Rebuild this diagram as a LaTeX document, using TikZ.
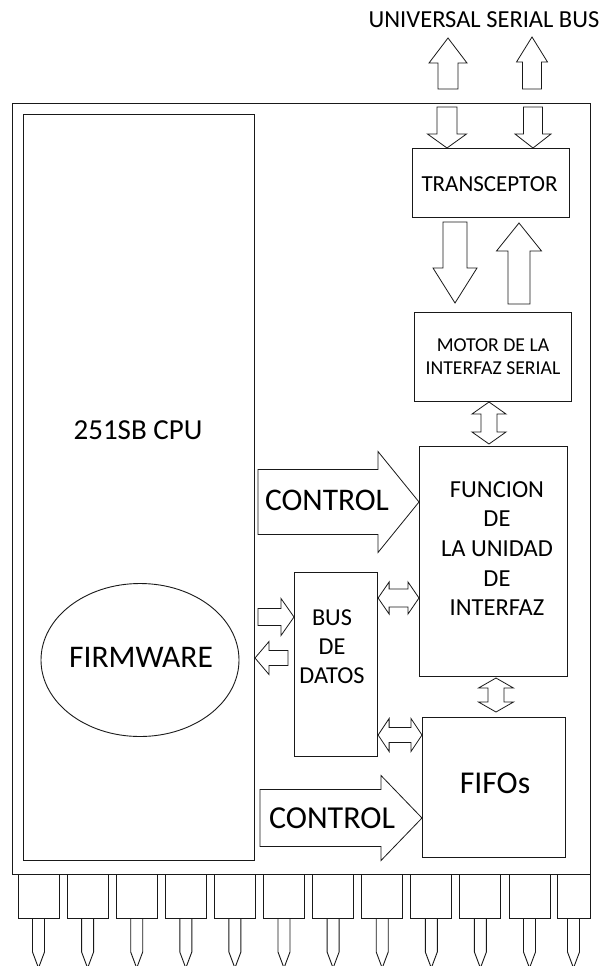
\documentclass[tikz,border=0pt]{standalone}
\usepackage{fontspec}
\setmainfont{Carlito}
\usetikzlibrary{calc,shapes.geometric}
\newcommand{\fsz}[2]{\fontsize{#1}{#2}\selectfont}
\newcommand{\blockarrow}[5]{%
  \coordinate (bah) at ($(#2)!#5!(#1)$);
  \draw[barrow] ($(#1)!#3!90:(#2)$) -- ($(bah)!#3!90:(#2)$) -- ($(bah)!#4!90:(#2)$) -- (#2)
    -- ($(bah)!#4!-90:(#2)$) -- ($(bah)!#3!-90:(#2)$) -- ($(#1)!#3!-90:(#2)$) -- cycle;}
\newcommand{\dblarrow}[5]{%
  \coordinate (baa) at ($(#1)!#5!(#2)$);
  \coordinate (bab) at ($(#2)!#5!(#1)$);
  \draw[barrow] (#1) -- ($(baa)!#4!90:(#2)$) -- ($(baa)!#3!90:(#2)$) -- ($(bab)!#3!90:(#2)$)
    -- ($(bab)!#4!90:(#2)$) -- (#2) -- ($(bab)!#4!-90:(#2)$) -- ($(bab)!#3!-90:(#2)$)
    -- ($(baa)!#3!-90:(#2)$) -- ($(baa)!#4!-90:(#2)$) -- cycle;}
\tikzset{
  box/.style={draw=black!90, line width=1.1pt, inner sep=0pt, anchor=north west},
  barrow/.style={draw=black!90, line width=0.8pt, fill=white, line join=miter},
  lbl/.style={inner sep=0pt, text=black, align=center},
  pinbox/.style={draw=black!90, line width=1pt, inner sep=0pt, minimum height=44pt},
  pinleg/.style={draw=black!90, line width=0.9pt},
}
\begin{document}
\begin{tikzpicture}[x=1pt,y=-1pt]
\useasboundingbox[fill=white] (0,0) rectangle (602,966);
% main blocks
\node[box, minimum width=578pt, minimum height=771pt] (chip) at (12,103) {};
\node[box, minimum width=231pt, minimum height=746pt] (cpu) at (23,114) {};
\node[box, minimum width=157pt, minimum height=69pt] (trans) at (412,148) {};
\node[box, minimum width=157pt, minimum height=89pt] (motor) at (414,312) {};
\node[box, minimum width=148pt, minimum height=230pt] (func) at (419,446) {};
\node[box, minimum width=83pt, minimum height=184pt] (bus) at (294,572) {};
\node[box, minimum width=143pt, minimum height=140pt] (fifo) at (422,717) {};
\node[draw=black!90, line width=0.9pt, ellipse, inner sep=0pt,
      minimum width=198pt, minimum height=153pt] (firm) at (140,660) {};
% labels
\node[lbl, font=\fsz{24.5}{29}] (usb) at (484,20) {UNIVERSAL SERIAL BUS};
\node[lbl, font=\fsz{23}{27}] (transl) at (489.5,184) {TRANSCEPTOR};
\node[lbl, font=\fsz{19.7}{23}] (motorl) at (493,356.5) {MOTOR DE LA\\INTERFAZ SERIAL};
\node[lbl, font=\fsz{24.5}{29.7}] (funcl) at (497,548.5) {FUNCION\\DE\\LA UNIDAD\\DE\\INTERFAZ};
\node[lbl, font=\fsz{24.3}{29}] (busl) at (332,647) {BUS\\DE\\DATOS};
\node[lbl, font=\fsz{31.8}{36}] (fifol) at (495,783) {FIFOs};
\node[lbl, font=\fsz{29}{34}] (cpul) at (138,430) {251SB CPU};
\node[lbl, font=\fsz{31.5}{36}] (firml) at (141,657) {FIRMWARE};
% USB arrows
\coordinate (u1s) at (448,89);  \coordinate (u1e) at (448,38);
\coordinate (u2s) at (532,89);  \coordinate (u2e) at (532,37);
\blockarrow{u1s}{u1e}{10pt}{19pt}{25pt}
\blockarrow{u2s}{u2e}{9.5pt}{15.5pt}{25pt}
\coordinate (d1s) at (447,107); \coordinate (d1e) at (trans.north -| d1s);
\coordinate (d2s) at (533,107); \coordinate (d2e) at (trans.north -| d2s);
\blockarrow{d1s}{d1e}{10pt}{19.5pt}{14pt}
\blockarrow{d2s}{d2e}{9.5pt}{18pt}{14pt}
% transceptor <-> motor
\coordinate (t1s) at (455,222); \coordinate (t1e) at (455,303);
\coordinate (t2s) at (519,304); \coordinate (t2e) at (519,223);
\blockarrow{t1s}{t1e}{12pt}{22pt}{35pt}
\blockarrow{t2s}{t2e}{11pt}{22.5pt}{28pt}
% motor <-> func
\coordinate (mf1) at (489,402); \coordinate (mf2) at (489,444);
\dblarrow{mf1}{mf2}{8pt}{17pt}{12pt}
% control 1
\coordinate (c1s) at (258,502); \coordinate (c1e) at (func.west |- c1s);
\blockarrow{c1s}{c1e}{32.5pt}{50.5pt}{41pt}
\node[lbl, font=\fsz{31.5}{36}] (c1l) at (327,500) {CONTROL};
% bus <-> func
\coordinate (bf1) at (bus.east |- 0,598); \coordinate (bf2) at (func.west |- bf1);
\dblarrow{bf1}{bf2}{9pt}{16pt}{11pt}
% cpu <-> bus
\coordinate (cb1) at (258,617); \coordinate (cb2) at (bus.west |- cb1);
\blockarrow{cb1}{cb2}{8.5pt}{18.5pt}{13pt}
\coordinate (bc1) at (288,658); \coordinate (bc2) at (255,658);
\blockarrow{bc1}{bc2}{7.5pt}{16.5pt}{14pt}
% func <-> fifo
\coordinate (ff1) at (496,678); \coordinate (ff2) at (496,712);
\dblarrow{ff1}{ff2}{8pt}{17.5pt}{10pt}
% bus <-> fifo
\coordinate (bq1) at (bus.east |- 0,735); \coordinate (bq2) at (fifo.west |- bq1);
\dblarrow{bq1}{bq2}{7.5pt}{16.5pt}{11pt}
% control 2
\coordinate (c2s) at (260,818); \coordinate (c2e) at (fifo.west |- c2s);
\blockarrow{c2s}{c2e}{28.5pt}{42.5pt}{41pt}
\node[lbl, font=\fsz{32}{36}] (c2l) at (332,818) {CONTROL};
% pins
\foreach \i in {0,...,10} {
  \node[pinbox, minimum width=41pt, anchor=north] (pin\i) at ({38.5+49.1*\i},874) {};
  \draw[pinleg] ($(pin\i.south)+(-6,0)$) -- ++(0,33) -- ++(6,16) -- ++(6,-16) -- ++(0,-33);
}
\node[pinbox, minimum width=33pt, anchor=north] (pin11) at (573.5,874) {};
\draw[pinleg] ($(pin11.south)+(-6,0)$) -- ++(0,33) -- ++(6,16) -- ++(6,-16) -- ++(0,-33);
\end{tikzpicture}
\end{document}
